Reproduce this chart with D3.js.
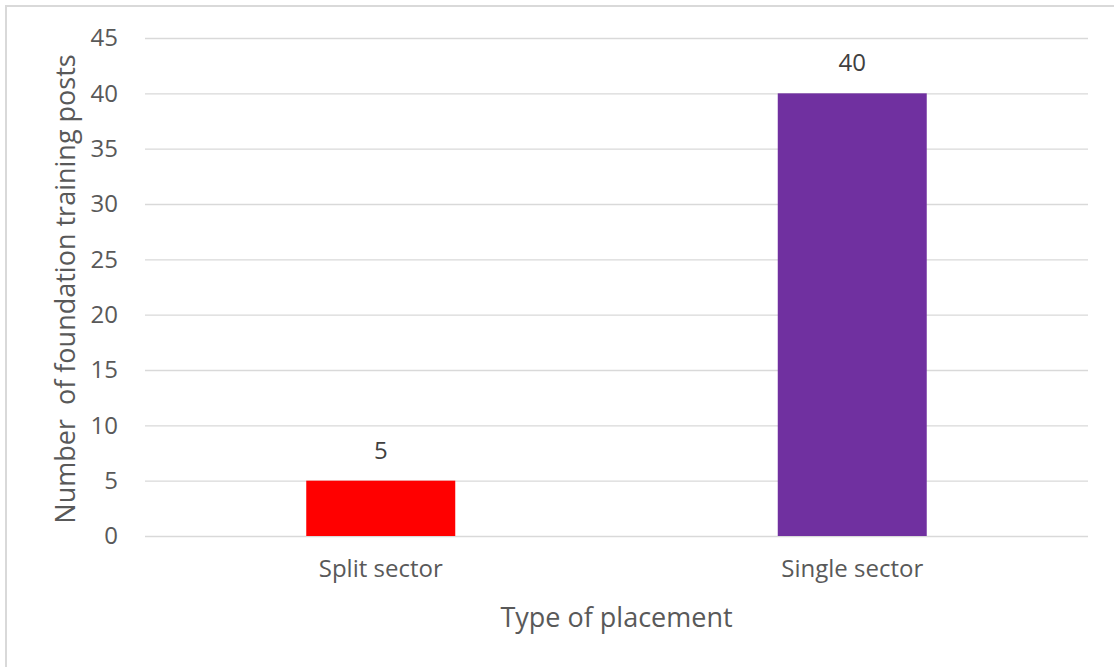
<!DOCTYPE html>
<html><head><meta charset="utf-8">
<script src="https://cdn.jsdelivr.net/npm/d3@7"></script>
<style>body{margin:0;background:#fff}svg{display:block}text{font-family:"Open Sans",sans-serif}</style>
</head><body><svg id="c" width="1114" height="667"></svg>
<script>
const categories = ["Split sector", "Single sector"];
const values = [5, 40];
const colors = ["#ff0000", "#7030a0"];
const yTicks = [0, 5, 10, 15, 20, 25, 30, 35, 40, 45];
const yTitle = "Number  of foundation training posts";
const xTitle = "Type of placement";

const svg = d3.select("#c");
svg.append("rect").attr("x", 6).attr("y", 6).attr("width", 1130).attr("height", 680)
  .attr("fill", "#fff").attr("stroke", "#d9d9d9").attr("stroke-width", 2);

const m = {left: 145, right: 1088, top: 38, bottom: 536};
const x = d3.scaleBand().domain(categories).range([m.left, m.right]).paddingInner(0.684).paddingOuter(0.342);
const y = d3.scaleLinear().domain([0, 45]).range([m.bottom, m.top]);

const ya = svg.append("g").attr("transform", `translate(${m.left},0)`)
  .call(d3.axisLeft(y).tickValues(yTicks).tickSize(-(m.right - m.left)).tickPadding(27));
ya.select(".domain").remove();
ya.selectAll(".tick line").attr("stroke", "#d9d9d9").attr("stroke-width", 1.3);
ya.selectAll(".tick text").attr("fill", "#595959").style("font-size", "24px");

svg.selectAll(".bar").data(values).join("rect")
  .attr("x", (d, i) => x(categories[i])).attr("width", x.bandwidth())
  .attr("y", d => y(d)).attr("height", d => y(0) - y(d))
  .attr("fill", (d, i) => colors[i]);

svg.selectAll(".lbl").data(values).join("text")
  .attr("x", (d, i) => x(categories[i]) + x.bandwidth() / 2)
  .attr("y", d => y(d) - 22).attr("text-anchor", "middle")
  .attr("fill", "#404040").style("font-size", "24px").text(d => d);

const xa = svg.append("g").attr("transform", `translate(0,${m.bottom})`)
  .call(d3.axisBottom(x).tickSize(0).tickPadding(24));
xa.select(".domain").remove();
xa.selectAll(".tick text").attr("fill", "#595959").style("font-size", "24px");

svg.append("text").attr("x", (m.left + m.right) / 2).attr("y", 627).attr("text-anchor", "middle")
  .attr("fill", "#595959").style("font-size", "27px").text(xTitle);
svg.append("text").attr("transform", `translate(75,289) rotate(-90)`)
  .attr("text-anchor", "middle").attr("fill", "#595959").style("font-size", "27px")
  .style("white-space", "pre").text(yTitle);
</script></body></html>
